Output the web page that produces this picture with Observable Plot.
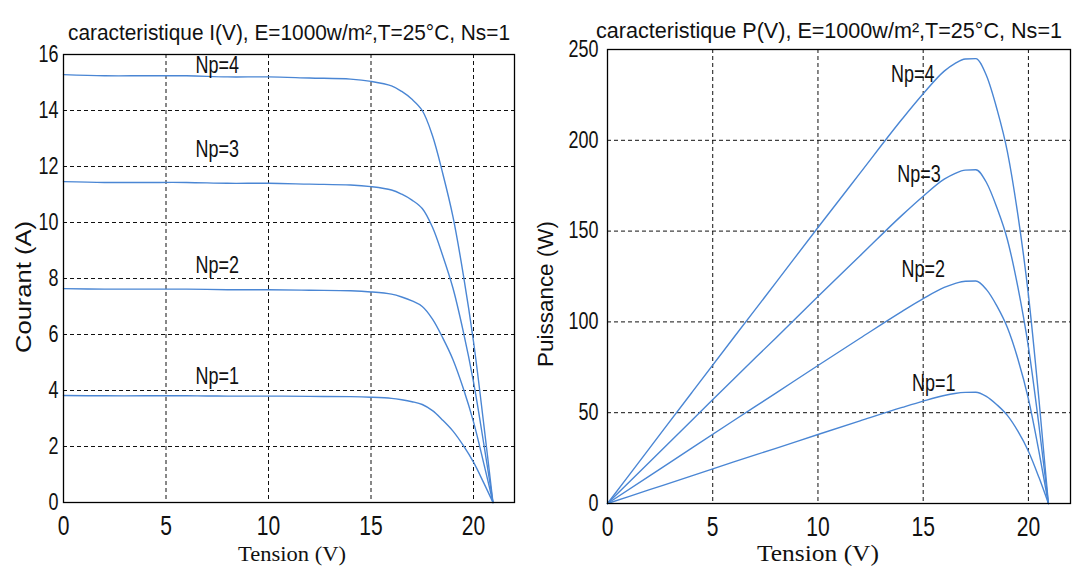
<!DOCTYPE html>
<html><head><meta charset="utf-8">
<script src="https://cdn.jsdelivr.net/npm/d3@7"></script>
<script src="https://cdn.jsdelivr.net/npm/@observablehq/plot@0.6"></script>
<style>
html,body{margin:0;padding:0;background:#fff;}
#wrap{position:relative;width:1076px;height:567px;overflow:hidden;background:#fff;}
#left,#right,#overlay{position:absolute;top:0;}
#left{left:0}
#right{left:540px}
#overlay{left:0;pointer-events:none}
</style></head><body>
<div id="wrap"><div id="left"></div><div id="right"></div>
<svg id="overlay" width="1076" height="567">
  <g font-family="'Liberation Sans', Arial, sans-serif" fill="#111">
    <text x="289" y="40" text-anchor="middle" font-size="21.5" textLength="442" lengthAdjust="spacingAndGlyphs">caracteristique I(V), E=1000w/m²,T=25°C, Ns=1</text>
    <text x="829" y="38" text-anchor="middle" font-size="22" textLength="466" lengthAdjust="spacingAndGlyphs">caracteristique P(V), E=1000w/m²,T=25°C, Ns=1</text>
    <text transform="translate(31,287) rotate(-90)" text-anchor="middle" font-size="22" textLength="132" lengthAdjust="spacingAndGlyphs">Courant (A)</text>
    <text transform="translate(553,294) rotate(-90)" text-anchor="middle" font-size="22" textLength="146" lengthAdjust="spacingAndGlyphs">Puissance (W)</text>
  </g>
  <g font-family="'Liberation Serif', 'Times New Roman', serif" fill="#111">
    <text x="292" y="561" text-anchor="middle" font-size="22" textLength="108" lengthAdjust="spacingAndGlyphs">Tension (V)</text>
    <text x="818" y="561" text-anchor="middle" font-size="24" textLength="122" lengthAdjust="spacingAndGlyphs">Tension (V)</text>
  </g>
</svg>
</div>
<script>
// ---- data ----
const tension = [0, 2, 4, 6, 8, 10, 12, 14, 15, 16, 16.5, 17, 17.5, 18, 18.5, 19, 19.5, 20, 20.5, 20.95];

const courantNp1 = [3.82, 3.81, 3.81, 3.81, 3.80, 3.80, 3.79, 3.78, 3.76, 3.72, 3.67, 3.60, 3.50, 3.28, 2.94, 2.55, 2.04, 1.44, 0.70, 0];
const courantNp2 = [7.64, 7.62, 7.62, 7.62, 7.60, 7.60, 7.58, 7.56, 7.52, 7.44, 7.34, 7.20, 7.00, 6.55, 5.88, 5.10, 4.08, 2.88, 1.40, 0];
const courantNp3 = [11.46, 11.43, 11.43, 11.43, 11.40, 11.40, 11.37, 11.34, 11.28, 11.16, 11.01, 10.80, 10.50, 9.83, 8.81, 7.65, 6.11, 4.31, 2.10, 0];
const courantNp4 = [15.28, 15.24, 15.24, 15.24, 15.20, 15.20, 15.16, 15.12, 15.04, 14.88, 14.68, 14.40, 14.00, 13.10, 11.75, 10.20, 8.15, 5.75, 2.80, 0];

const puissanceNp1 = [0, 7.6, 15.2, 22.9, 30.4, 38.0, 45.5, 52.9, 56.4, 59.5, 60.6, 61.2, 61.3, 59.0, 54.4, 48.5, 39.8, 28.8, 14.4, 0];
const puissanceNp2 = [0, 15.2, 30.5, 45.7, 60.8, 76.0, 91.0, 105.8, 112.8, 119.0, 121.1, 122.4, 122.5, 117.9, 108.8, 96.9, 79.6, 57.6, 28.7, 0];
const puissanceNp3 = [0, 22.9, 45.7, 68.6, 91.2, 114.0, 136.4, 158.8, 169.2, 178.6, 181.7, 183.6, 183.8, 176.9, 163.0, 145.4, 119.1, 86.2, 43.1, 0];
const puissanceNp4 = [0, 30.5, 61.0, 91.4, 121.6, 152.0, 181.9, 211.7, 225.6, 238.1, 242.2, 244.8, 245.0, 235.8, 217.4, 193.8, 158.9, 115.0, 57.4, 0];

const npNames = ["Np=1", "Np=2", "Np=3", "Np=4"];
// label anchor points (data coordinates)
const labelTensionI = [7.5, 7.5, 7.5, 7.5];
const labelCourant = [4.5, 8.45, 12.6, 15.6];
const labelTensionP = [15.5, 15.0, 14.8, 14.5];
const labelPuissance = [66, 128.6, 181, 236];

const xTicks = [0, 5, 10, 15, 20];
const yTicksI = [0, 2, 4, 6, 8, 10, 12, 14, 16];
const yTicksP = [0, 50, 100, 150, 200, 250];

// ---- build tables ----
const courants = [courantNp1, courantNp2, courantNp3, courantNp4];
const puissances = [puissanceNp1, puissanceNp2, puissanceNp3, puissanceNp4];
const rows = npNames.flatMap((np, k) => tension.map((v, i) => ({np, tension: v, courant: courants[k][i], puissance: puissances[k][i]})));
const labelsI = npNames.map((t, k) => ({text: t, x: labelTensionI[k], y: labelCourant[k]}));
const labelsP = npNames.map((t, k) => ({text: t, x: labelTensionP[k], y: labelPuissance[k]}));

const blue = "#4a86d4";
const gridStyle = {stroke: "#111", strokeOpacity: 1, strokeWidth: 1, strokeDasharray: "4,3"};
const font = "'Liberation Sans', Arial, sans-serif";

function condense(svg, s) {
  svg.querySelectorAll("text").forEach(t => {
    const L = t.getComputedTextLength();
    if (L > 0) {
      t.setAttribute("textLength", (L * s).toFixed(2));
      t.setAttribute("lengthAdjust", "spacingAndGlyphs");
    }
  });
}

const left = Plot.plot({
  width: 540, height: 567,
  marginLeft: 63, marginRight: 26, marginTop: 54, marginBottom: 65,
  x: {domain: [0, 22]},
  y: {domain: [0, 16]},
  style: {fontFamily: font, color: "#111", background: "transparent", overflow: "visible"},
  marks: [
    Plot.gridX({...gridStyle, ticks: xTicks.filter(d => d > 0)}),
    Plot.gridY({...gridStyle, ticks: yTicksI.filter(d => d > 0 && d < 16)}),
    Plot.line(rows, {x: "tension", y: "courant", z: "np", stroke: blue, strokeWidth: 1.4, curve: "catmull-rom"}),
    Plot.frame({stroke: "#000", strokeWidth: 1.3}),
    Plot.axisX({ticks: xTicks, tickSize: 0, tickPadding: 13, fontSize: 27, label: null}),
    Plot.axisY({ticks: yTicksI, tickSize: 0, tickPadding: 5, fontSize: 23, label: null}),
    Plot.text(labelsI, {x: "x", y: "y", text: "text", fontSize: 23, fill: "#111"})
  ]
});
document.getElementById("left").appendChild(left);
condense(left, 0.78);

const right = Plot.plot({
  width: 536, height: 567,
  marginLeft: 67, marginRight: 6, marginTop: 49, marginBottom: 64,
  x: {domain: [0, 22]},
  y: {domain: [0, 250]},
  style: {fontFamily: font, color: "#111", background: "transparent", overflow: "visible"},
  marks: [
    Plot.gridX({...gridStyle, ticks: xTicks.filter(d => d > 0)}),
    Plot.gridY({...gridStyle, ticks: yTicksP.filter(d => d > 0 && d < 250)}),
    Plot.line(rows, {x: "tension", y: "puissance", z: "np", stroke: blue, strokeWidth: 1.4, curve: "monotone-x"}),
    Plot.frame({stroke: "#000", strokeWidth: 1.3}),
    Plot.axisX({ticks: xTicks, tickSize: 0, tickPadding: 13, fontSize: 27, label: null}),
    Plot.axisY({ticks: yTicksP, tickSize: 0, tickPadding: 9, fontSize: 23, label: null}),
    Plot.text(labelsP, {x: "x", y: "y", text: "text", fontSize: 23, fill: "#111"})
  ]
});
document.getElementById("right").appendChild(right);
condense(right, 0.78);
</script>
</body></html>
